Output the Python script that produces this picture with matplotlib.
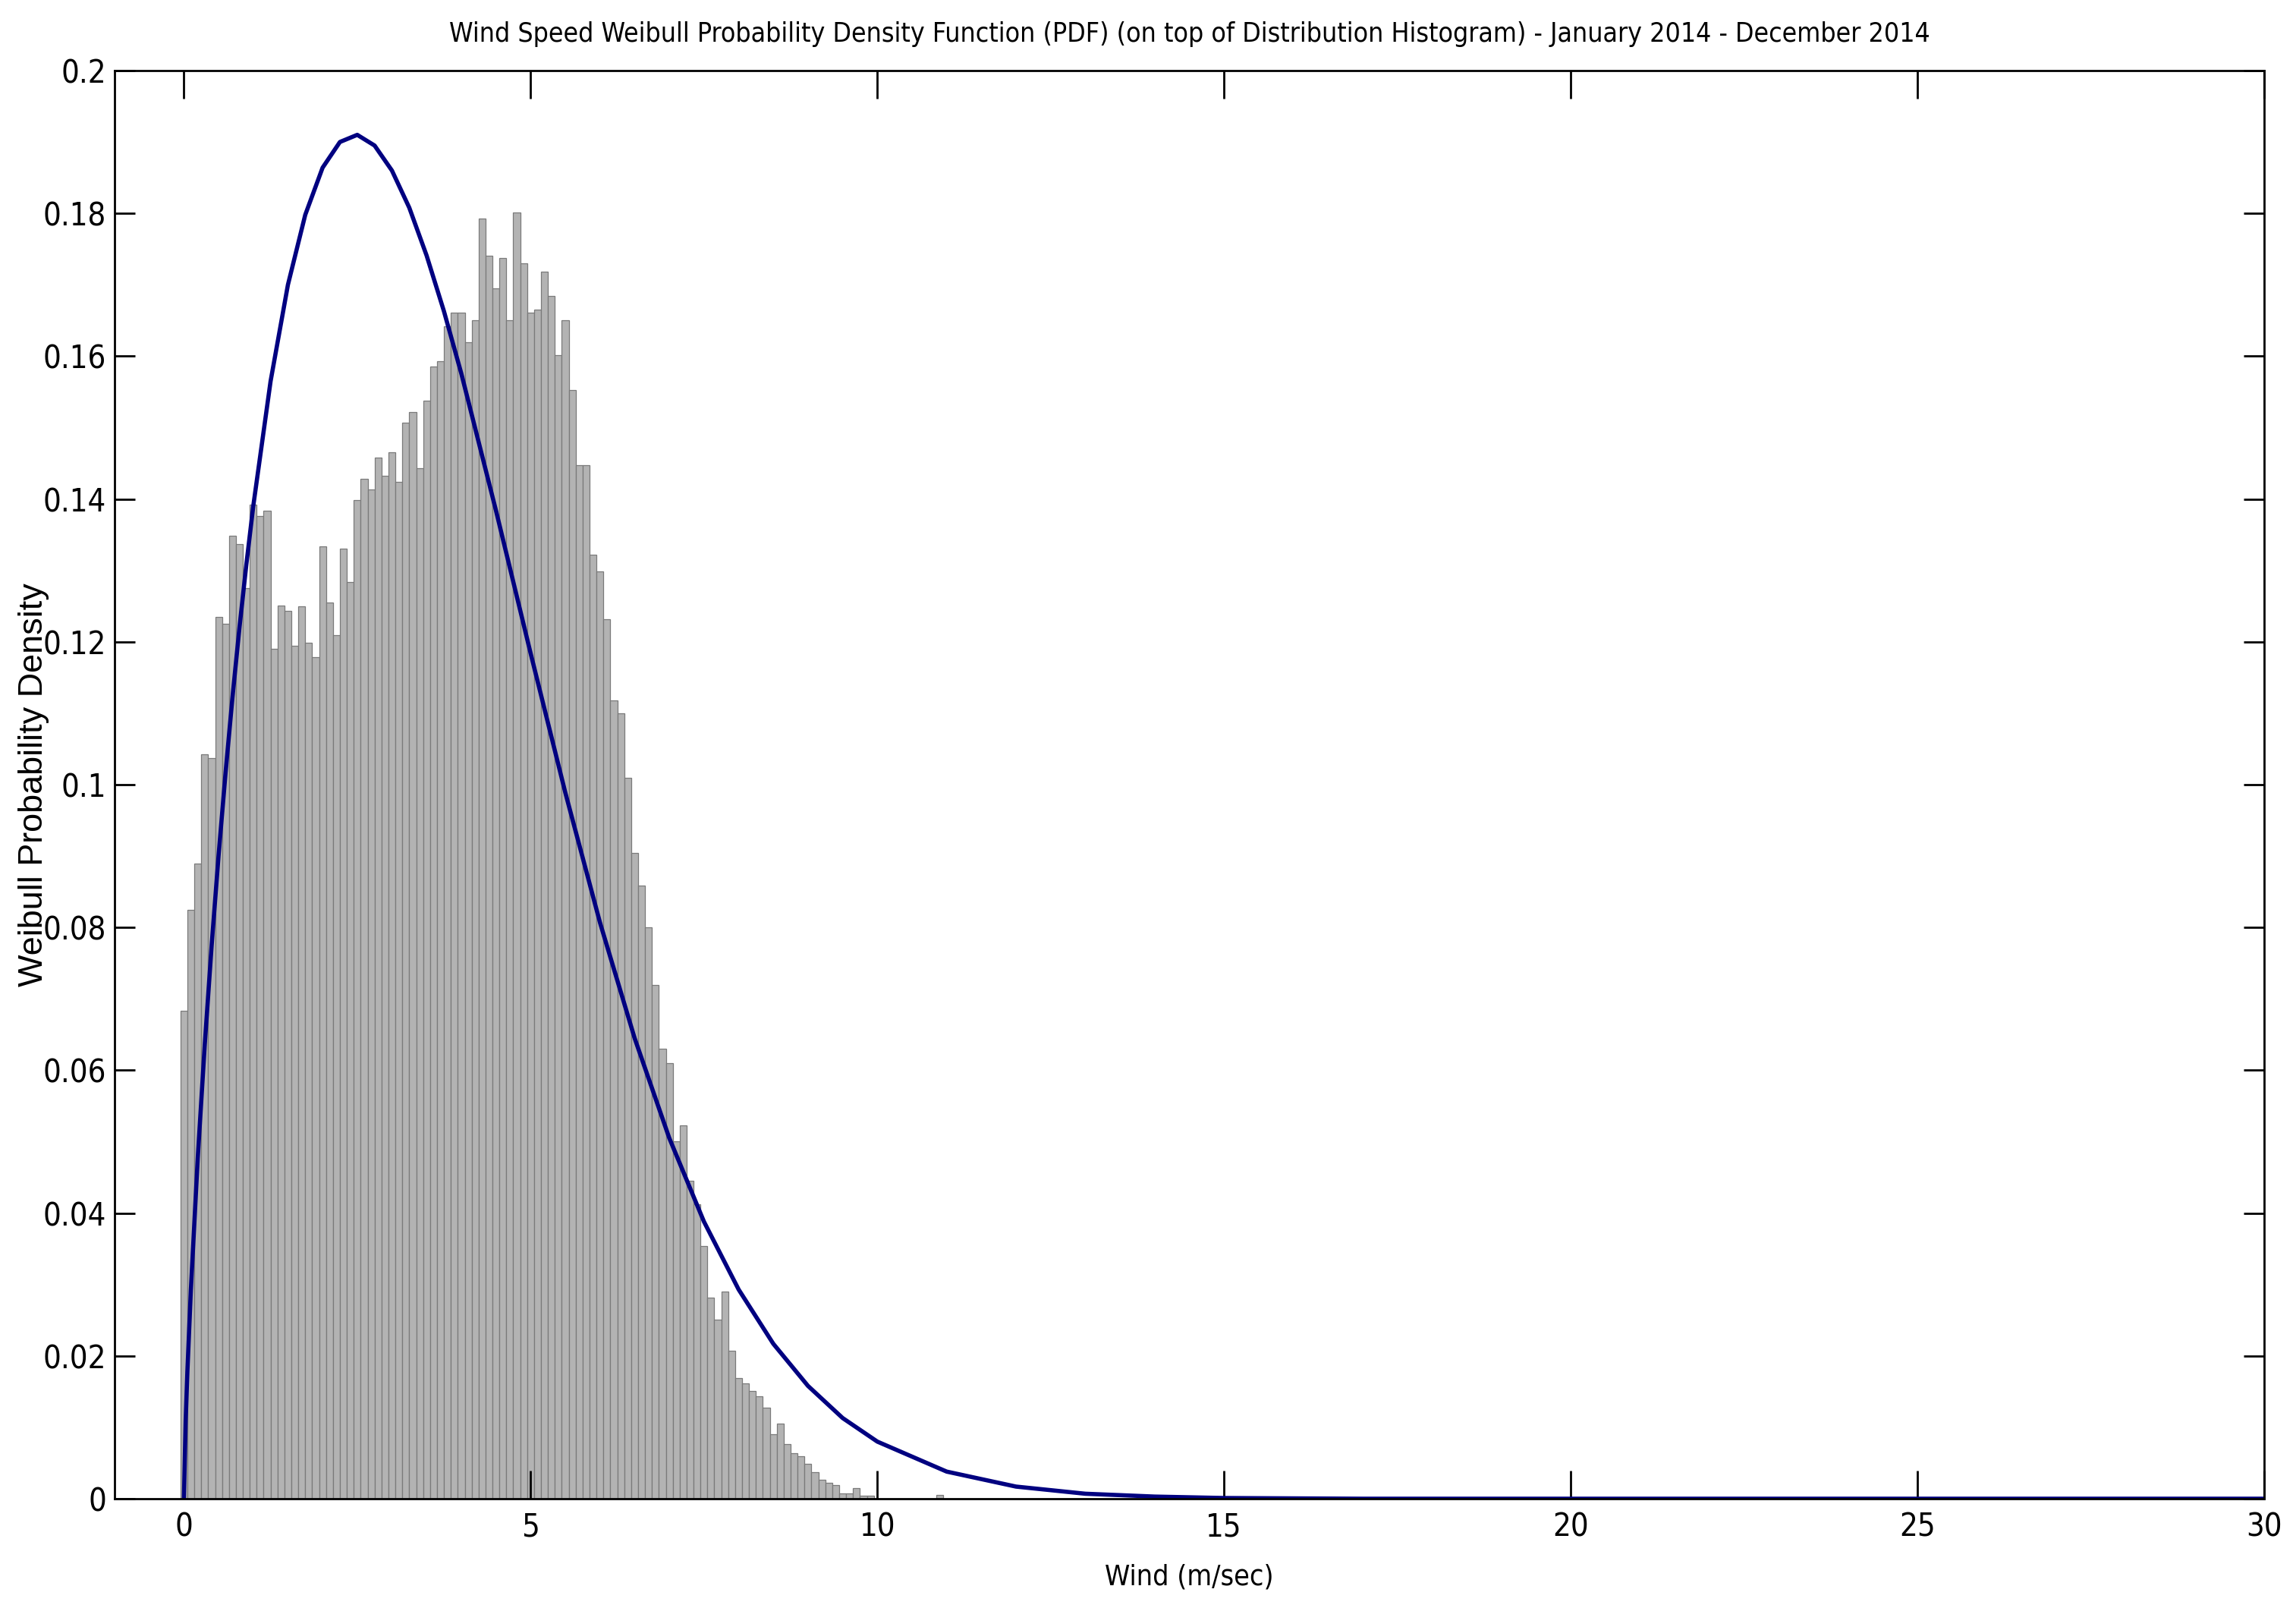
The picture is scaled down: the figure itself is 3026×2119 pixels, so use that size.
import numpy as np
import matplotlib
matplotlib.use("Agg")
import matplotlib.pyplot as plt
from matplotlib import font_manager

# ---------------- data ----------------
wind_bins = [0.0, 0.1, 0.2, 0.3, 0.4, 0.5, 0.6, 0.7, 0.8, 0.9,
             1.0, 1.1, 1.2, 1.3, 1.4, 1.5, 1.6, 1.7, 1.8, 1.9,
             2.0, 2.1, 2.2, 2.3, 2.4, 2.5, 2.6, 2.7, 2.8, 2.9,
             3.0, 3.1, 3.2, 3.3, 3.4, 3.5, 3.6, 3.7, 3.8, 3.9,
             4.0, 4.1, 4.2, 4.3, 4.4, 4.5, 4.6, 4.7, 4.8, 4.9,
             5.0, 5.1, 5.2, 5.3, 5.4, 5.5, 5.6, 5.7, 5.8, 5.9,
             6.0, 6.1, 6.2, 6.3, 6.4, 6.5, 6.6, 6.7, 6.8, 6.9,
             7.0, 7.1, 7.2, 7.3, 7.4, 7.5, 7.6, 7.7, 7.8, 7.9,
             8.0, 8.1, 8.2, 8.3, 8.4, 8.5, 8.6, 8.7, 8.8, 8.9,
             9.0, 9.1, 9.2, 9.3, 9.4, 9.5, 9.6, 9.7, 9.8, 9.9,
             10.9]
hist_density = [0.0683, 0.0825, 0.0890, 0.1043, 0.1037, 0.1235, 0.1225, 0.1349, 0.1337, 0.1275,
                0.1392, 0.1376, 0.1384, 0.1190, 0.1251, 0.1243, 0.1195, 0.1250, 0.1199, 0.1179,
                0.1334, 0.1255, 0.1209, 0.1330, 0.1284, 0.1398, 0.1428, 0.1413, 0.1458, 0.1432,
                0.1465, 0.1424, 0.1507, 0.1522, 0.1443, 0.1538, 0.1586, 0.1593, 0.1642, 0.1661,
                0.1661, 0.1620, 0.1650, 0.1793, 0.1741, 0.1695, 0.1737, 0.1650, 0.1801, 0.1730,
                0.1661, 0.1665, 0.1718, 0.1684, 0.1601, 0.1650, 0.1553, 0.1447, 0.1447, 0.1322,
                0.1299, 0.1232, 0.1118, 0.1100, 0.1010, 0.0904, 0.0859, 0.0800, 0.0719, 0.0630,
                0.0610, 0.0501, 0.0523, 0.0445, 0.0412, 0.0354, 0.0282, 0.0251, 0.0290, 0.0207,
                0.0169, 0.0162, 0.0151, 0.0143, 0.0128, 0.0090, 0.0105, 0.0076, 0.0064, 0.0060,
                0.0049, 0.0037, 0.0027, 0.0022, 0.0019, 0.0007, 0.0007, 0.0015, 0.0004, 0.0004,
                0.0005]

pdf_wind = [0.0, 0.025, 0.05, 0.1, 0.2, 0.3, 0.4, 0.5, 0.6, 0.7, 0.8, 0.9, 1.0,
            1.25, 1.5, 1.75, 2.0, 2.25, 2.5, 2.75, 3.0, 3.25, 3.5, 3.75, 4.0,
            4.5, 5.0, 5.5, 6.0, 6.5, 7.0, 7.5, 8.0, 8.5, 9.0, 9.5, 10.0,
            11.0, 12.0, 13.0, 14.0, 15.0, 17.0, 20.0, 30.0]
pdf_density = [0.0, 0.0109, 0.0178, 0.0292, 0.0478, 0.0635, 0.0775, 0.0901, 0.1016, 0.1122,
               0.1219, 0.1308, 0.1390, 0.1565, 0.1700, 0.1798, 0.1864, 0.1900, 0.1910,
               0.1895, 0.1860, 0.1808, 0.1741, 0.1663, 0.1576, 0.1384, 0.1184, 0.0989,
               0.0807, 0.0645, 0.0505, 0.0388, 0.0293, 0.0217, 0.0158, 0.0113, 0.0080,
               0.0038, 0.0017, 0.0007, 0.0003, 0.0001, 0.0, 0.0, 0.0]

x_ticks = [0, 5, 10, 15, 20, 25, 30]
y_ticks = [0, 0.02, 0.04, 0.06, 0.08, 0.1, 0.12, 0.14, 0.16, 0.18, 0.2]
y_tick_labels = ["0", "0.02", "0.04", "0.06", "0.08", "0.1", "0.12", "0.14", "0.16", "0.18", "0.2"]

title_text = ("Wind Speed Weibull Probability Density Function (PDF) "
              "(on top of Distribution Histogram) - January 2014 - December 2014")
x_label = "Wind (m/sec)"
y_label = "Weibull Probability Density"

# ---------------- fonts ----------------
names = {f.name for f in font_manager.fontManager.ttflist}
if "Liberation Sans Narrow" in names:
    narrow = dict(family=["Liberation Sans Narrow", "DejaVu Sans"])
else:
    narrow = dict(family=["DejaVu Sans"], stretch="condensed")
regular = dict(family=["Liberation Sans", "DejaVu Sans"])

# ---------------- figure ----------------
W, H, DPI = 3026, 2119, 200
fig = plt.figure(figsize=(W / DPI, H / DPI), dpi=DPI)
ax = fig.add_axes([151 / W, 1 - 1975 / H, (2984 - 151) / W, (1975 - 93) / H])

ax.bar(wind_bins, hist_density, width=0.1, align="center",
       color="#B3B3B3", edgecolor="#7A7A7A", linewidth=0.45, zorder=1)
ax.plot(pdf_wind, pdf_density, color="#000080", linewidth=2.0, zorder=2)

ax.set_xlim(-1, 30)
ax.set_ylim(0, 0.2)
ax.set_xticks(x_ticks)
ax.set_xticklabels([str(t) for t in x_ticks], fontsize=15, **narrow)
ax.set_yticks(y_ticks)
ax.set_yticklabels(y_tick_labels, fontsize=15, **narrow)

ax.tick_params(direction="in", top=True, right=True, width=1.0, colors="black")
ax.tick_params(axis="x", length=13.3, pad=6)
ax.tick_params(axis="y", length=9.7, pad=4)
for s in ax.spines.values():
    s.set_linewidth(1.0)
    s.set_color("black")

ax.set_title(title_text, fontsize=12.8, pad=13.5, **narrow)
ax.set_xlabel(x_label, fontsize=13.5, labelpad=9.5, **narrow)
ax.set_ylabel(y_label, fontsize=16.2, labelpad=-3, **regular)

fig.savefig("out.png", dpi=DPI, facecolor="white")
